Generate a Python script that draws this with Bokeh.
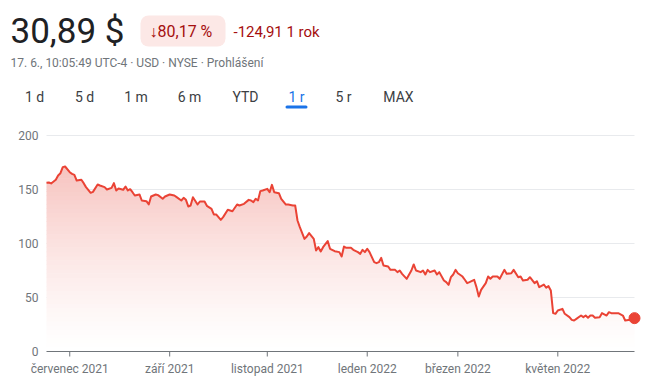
from bokeh.plotting import figure
from bokeh.models import Range1d
from bokeh.embed import file_html
from bokeh.resources import INLINE
from bokeh.core.properties import value

# ---- data (trading-day index since 17 Jun 2021, closing price in USD) ----
days = [0, 1, 2, 4, 5, 6, 7, 8, 10, 11, 12, 13, 15, 16, 17, 19, 20, 22, 23, 25,
        26, 28, 29, 30, 31, 33, 34, 35, 36, 37, 38, 40, 41, 43, 44, 45, 47, 48, 50, 51,
        53, 55, 56, 58, 59, 60, 61, 62, 63, 65, 66, 68, 69, 71, 72, 73, 75, 76, 78, 80,
        82, 83, 85, 87, 88, 89, 90, 91, 92, 93, 95, 96, 97, 98, 100, 101, 103, 104, 106, 107,
        108, 109, 111, 112, 113, 115, 116, 117, 118, 119, 121, 122, 124, 126, 127, 128, 129, 131, 132, 134,
        135, 136, 137, 138, 139, 141, 142, 143, 144, 145, 147, 148, 149, 150, 151, 152, 153, 155, 157, 158,
        159, 161, 162, 163, 164, 165, 167, 168, 169, 171, 172, 173, 174, 175, 176, 177, 179, 180, 181, 182,
        184, 185, 186, 187, 189, 190, 191, 192, 194, 195, 197, 198, 200, 201, 203, 204, 205, 207, 208, 210,
        211, 212, 214, 215, 216, 217, 218, 219, 220, 222, 223, 225, 226, 227, 228, 230, 231, 232, 233, 234,
        235, 236, 238, 239, 241, 242, 243, 245, 246, 248, 249, 251, 252, 253]
prices = [156.2, 156.5, 155.6, 159.0, 163.0, 165.1, 170.7, 171.3, 166.0, 164.5, 163.6, 158.3, 159.0, 155.9, 152.2, 146.9, 147.8, 154.6, 153.7, 152.2,
          150.0, 151.5, 155.9, 149.1, 150.9, 149.7, 152.8, 149.1, 150.3, 147.5, 144.4, 145.4, 139.8, 139.2, 136.1, 143.5, 145.4, 144.8, 141.4, 143.5,
          145.4, 144.4, 142.9, 139.8, 142.3, 140.4, 134.3, 135.2, 142.9, 136.1, 138.9, 138.9, 134.9, 132.1, 126.9, 126.9, 121.9, 124.4, 131.2, 129.9,
          136.1, 135.2, 136.7, 140.4, 139.8, 138.3, 141.4, 139.8, 148.5, 149.1, 150.6, 147.5, 154.3, 147.5, 146.6, 141.4, 136.1, 136.1, 135.2, 135.2,
          121.3, 115.1, 104.3, 106.5, 109.6, 104.3, 93.5, 96.6, 92.6, 96.6, 102.2, 95.1, 92.9, 92.0, 88.0, 97.2, 96.0, 96.0, 94.1, 92.0,
          90.4, 94.1, 92.0, 95.1, 92.0, 82.7, 81.8, 82.7, 86.7, 79.6, 78.7, 75.6, 75.6, 75.6, 73.5, 75.0, 71.9, 67.3, 75.0, 80.6,
          75.0, 73.5, 75.0, 71.3, 75.6, 73.5, 75.0, 71.3, 73.5, 65.7, 64.2, 61.7, 68.8, 71.3, 75.6, 72.5, 69.4, 66.4, 63.3, 64.2,
          66.4, 59.6, 50.9, 57.1, 63.3, 69.4, 67.3, 69.4, 69.4, 67.3, 75.6, 71.9, 72.5, 75.6, 68.8, 69.4, 65.7, 66.4, 68.8, 63.3,
          65.1, 59.6, 62.0, 59.0, 60.5, 56.5, 35.5, 34.9, 38.0, 39.5, 34.9, 31.8, 29.3, 28.7, 30.2, 33.3, 31.8, 33.3, 31.2, 33.3,
          33.3, 31.2, 31.8, 35.5, 33.3, 36.4, 35.5, 35.5, 35.5, 33.3, 28.7, 29.3, 31.2, 30.89]

tick_days = [10, 53, 95, 138, 177, 220]
tick_labels = ["červenec 2021", "září 2021", "listopad 2021", "leden 2022", "březen 2022", "květen 2022"]
y_ticks = [0, 50, 100, 150, 200]

price_text = "30,89 $"
change_pct_text = "↓80,17 %"
change_abs_text = "-124,91 1 rok"
subtitle_text = "17. 6., 10:05:49 UTC-4 · USD · NYSE · Prohlášení"
tabs = ["1 d", "5 d", "1 m", "6 m", "YTD", "1 r", "5 r", "MAX"]
selected_tab = "1 r"

# ---- layout / style (one figure whose frame is the whole canvas) ----
RED = "#ea4335"
GREY = "#70757a"
FONT = value("Roboto")
W, H = 650, 383
PLOT_L, PLOT_R = 46, 634          # page px of first / last trading day
PLOT_T, PLOT_B = 135, 351         # page px of 200 and 0
ppd = (PLOT_R - PLOT_L) / days[-1]          # px per trading day
ppv = (PLOT_B - PLOT_T) / 200.0             # px per USD

def X(px):   # page px -> data x
    return (px - PLOT_L) / ppd
def Y(py):   # page px -> data y
    return (PLOT_B - py) / ppv

p = figure(width=W, height=H, output_backend="svg", toolbar_location=None,
           x_range=Range1d(X(0), X(W)), y_range=Range1d(Y(H), Y(0)),
           x_axis_type=None, y_axis_type=None, min_border=0)
p.outline_line_color = None
p.xgrid.visible = False
p.ygrid.visible = False

def txt(s, x, y, size, color, align="left"):
    p.text(x=[x], y=[y], text=[s], text_font=FONT, text_font_size=size,
           text_color=color, text_align=align, text_baseline="middle")

# y tick labels
p.text(x=[X(38)] * len(y_ticks), y=y_ticks, text=[str(t) for t in y_ticks], text_font=FONT,
       text_font_size="12px", text_color=GREY, text_align="right", text_baseline="middle")

# gridlines across the data span
grid_y = [t for t in y_ticks if t > 0]
p.segment(x0=[days[0]] * len(grid_y), y0=grid_y, x1=[days[-1]] * len(grid_y), y1=grid_y,
          line_color="#e8eaed", line_width=1)

# vertical gradient under the line: opaque bands, bottom (white) to top (pink)
TOP_RGB = (247, 196, 192)
levels = [i * 4.0 for i in range(0, 46)]
for k in range(len(levels) - 1):
    f = min(1.0, ((levels[k] + levels[k + 1]) / 2 / 170.0) ** 1.3)
    col = "#%02x%02x%02x" % tuple(int(round(255 + (c - 255) * f)) for c in TOP_RGB)
    y1 = [min(pr, levels[k]) for pr in prices]
    y2 = [min(pr, levels[k + 1] + 0.5) for pr in prices]
    p.varea(x=days, y1=y1, y2=y2, fill_color=col, fill_alpha=1)

# x axis: baseline, ticks, labels
p.segment(x0=[days[0]], y0=[0], x1=[days[-1]], y1=[0], line_color=GREY, line_width=1.2)
p.segment(x0=tick_days, y0=[0] * len(tick_days), x1=tick_days, y1=[Y(PLOT_B + 5)] * len(tick_days),
          line_color=GREY, line_width=1)
p.text(x=tick_days, y=[Y(368)] * len(tick_days), text=tick_labels, text_font=FONT,
       text_font_size="12px", text_color=GREY, text_align="center", text_baseline="middle")

p.line(days, prices, line_color=RED, line_width=2, line_join="round")
p.scatter([days[-1]], [prices[-1]], size=11, color=RED)

# ---- header ----
txt(price_text, X(10), Y(31), "35px", "#202124")
p.quad(left=[X(140)], right=[X(225)], top=[Y(15)], bottom=[Y(46)], fill_color="#fce8e6",
       line_color=None, border_radius=8)
txt(change_pct_text, X(149), Y(31), "16px", "#a50e0e")
txt(change_abs_text, X(233), Y(31), "15px", "#a50e0e")
txt(subtitle_text, X(10), Y(62), "12px", GREY)
tab_centers = [34, 84, 135.5, 189, 245, 296, 343, 398]
for t, cx in zip(tabs, tab_centers):
    txt(t, X(cx), Y(96), "14px", "#1a73e8" if t == selected_tab else "#3c4043", align="center")
cs = tab_centers[tabs.index(selected_tab)]
p.quad(left=[X(cs - 11)], right=[X(cs + 11)], top=[Y(105)], bottom=[Y(108)], fill_color="#1a73e8",
       line_color=None, border_radius=2)

open("out.html", "w").write(file_html(p, INLINE))
